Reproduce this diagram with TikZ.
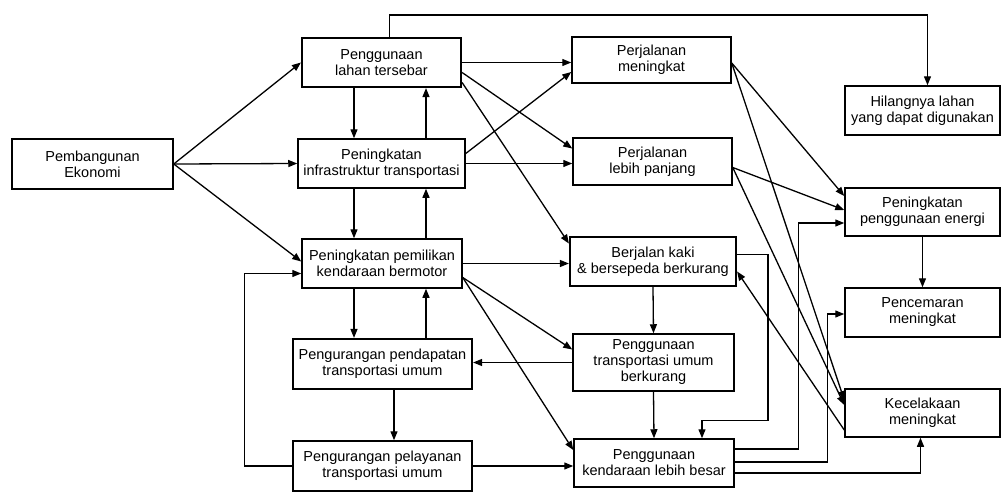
\documentclass[tikz,border=0pt]{standalone}
\usepackage{fontspec}
\setmainfont{Liberation Sans}
\usetikzlibrary{calc, arrows.meta}

\begin{document}
\begin{tikzpicture}[x=1pt, y=-1pt, line width=1.3pt,
  kotak/.style={draw, line width=1.5pt, align=center, inner sep=0pt,
    font=\fontsize{14.5}{16}\selectfont},
  ukuran/.style 2 args={minimum width=#1pt, minimum height=#2pt},
  tebal/.style={line width=2.2pt},
  panah/.style={-{Triangle[length=9pt,width=7pt]}}]
  \useasboundingbox (0,0) rectangle (1005,493);

  % kotak-kotak (koordinat dalam piksel)
  \node[kotak, ukuran={161}{50}] (ekonomi) at (92.5,164) {Pembangunan\\Ekonomi};
  \node[kotak, tebal, ukuran={159}{49}] (lahan) at (381.5,62.5) {Penggunaan\\lahan tersebar};
  \node[kotak, ukuran={167}{49}] (infra) at (381.5,163.5) {Peningkatan\\infrastruktur transportasi};
  \node[kotak, ukuran={160}{49}] (milik) at (382,263.5) {Peningkatan pemilikan\\kendaraan bermotor};
  \node[kotak, tebal, ukuran={179}{50}] (pendapatan) at (382.5,364) {Pengurangan pendapatan\\transportasi umum};
  \node[kotak, ukuran={179}{50}] (pelayanan) at (382.5,466) {Pengurangan pelayanan\\transportasi umum};
  \node[kotak, ukuran={159}{46}] (perjalanan) at (651.5,60) {Perjalanan\\meningkat};
  \node[kotak, ukuran={159}{47}] (panjang) at (652.5,161.5) {Perjalanan\\lebih panjang};
  \node[kotak, tebal, ukuran={166}{49}] (jalankaki) at (653,261.5) {Berjalan kaki\\\& bersepeda berkurang};
  \node[kotak, ukuran={161}{57}] (umum) at (653.5,362.5) {Penggunaan\\transportasi umum\\berkurang};
  \node[kotak, ukuran={160}{48}] (besar) at (654,463) {Penggunaan\\kendaraan lebih besar};
  \node[kotak, ukuran={155}{49}] (hilang) at (922.5,110.5) {Hilangnya lahan\\yang dapat digunakan};
  \node[kotak, ukuran={155}{48}] (energi) at (922.5,212) {Peningkatan\\penggunaan energi};
  \node[kotak, ukuran={155}{49}] (cemar) at (922.5,312.5) {Pencemaran\\meningkat};
  \node[kotak, ukuran={155}{48}] (celaka) at (922.5,413) {Kecelakaan\\meningkat};

  \coordinate (kiri) at (354,0);
  \coordinate (kanan) at (426,0);
  \coordinate (tengah) at (394,0);

  % dari Pembangunan Ekonomi
  \draw[panah] (ekonomi.east) -- (lahan.west);
  \draw[panah] (ekonomi.east) -- (infra.west);
  \draw[panah] (ekonomi.east) -- ($(milik.west)+(0,-2)$);
  \draw[panah] (pelayanan.west) -- ++(-48,0) |- ($(milik.west)+(0,10)$);

  % kolom kiri
  \draw[panah] (lahan.south -| kiri) -- (infra.north -| kiri);
  \draw[panah] (infra.north -| kanan) -- (lahan.south -| kanan);
  \draw[panah] (infra.south -| kiri) -- (milik.north -| kiri);
  \draw[panah] (milik.north -| kanan) -- (infra.south -| kanan);
  \draw[panah] (milik.south -| kiri) -- (pendapatan.north -| kiri);
  \draw[panah] (pendapatan.north -| kanan) -- (milik.south -| kanan);
  \draw[panah] (pendapatan.south -| tengah) -- (pelayanan.north -| tengah);
  \draw[panah] (pelayanan.east) -- (pelayanan.east -| besar.west);

  % ke kolom tengah
  \draw[panah] (lahan.east) -- (lahan.east -| perjalanan.west);
  \draw[panah] ($(lahan.east)+(0,10)$) -- ($(panjang.west)+(0,-13)$);
  \draw[panah] ($(lahan.east)+(0,20)$) -- ($(jalankaki.west)+(0,-18)$);
  \draw[panah] ($(infra.east)+(0,-10)$) -- ($(perjalanan.west)+(0,12)$);
  \draw[panah] (infra.east) -- (infra.east -| panjang.west);
  \draw[panah] (milik.east) -- (milik.east -| jalankaki.west);
  \draw[panah] ($(milik.east)+(0,14)$) -- ($(umum.west)+(0,-13)$);
  \draw[panah] ($(milik.east)+(0,14)$) -- ($(besar.west)+(0,-13)$);
  \draw[panah] (umum.west) -- (umum.west -| pendapatan.east);
  \draw[panah] (jalankaki.south) -- (umum.north);
  \draw[panah] (umum.south) -- (besar.north);

  % ke kolom kanan
  \draw[panah] ($(lahan.north)+(8,0)$) -- ++(0,-22) -| ($(hilang.north)+(5,0)$);
  \draw[panah] ($(perjalanan.east)+(0,3)$) -- ($(energi.west)+(0,-16)$);
  \draw[panah] ($(perjalanan.east)+(0,3)$) -- ($(celaka.west)+(0,-13)$);
  \draw[panah] ($(panjang.east)+(0,6)$) -- ($(energi.west)+(0,-2)$);
  \draw[panah] ($(panjang.east)+(0,6)$) -- ($(celaka.west)+(0,-8)$);
  \draw[panah] ($(celaka.west)+(0,17)$) -- ($(jalankaki.east)+(0,10)$);
  \draw[panah] ($(jalankaki.east)+(0,-7)$) -- ++(31,0) -- ++(0,166) -| ($(besar.north)+(48,0)$);
  \draw[panah] ($(besar.east)+(0,-14)$) -- ++(64,0) |- ($(energi.west)+(0,11)$);
  \draw[panah] ($(besar.east)+(0,-1)$) -- ++(93,0) |- ($(cemar.west)+(0,1.5)$);
  \draw[panah] ($(besar.east)+(0,10)$) -| ($(celaka.south)+(-2,0)$);
  \draw[panah] (energi.south) -- (cemar.north);
\end{tikzpicture}
\end{document}
